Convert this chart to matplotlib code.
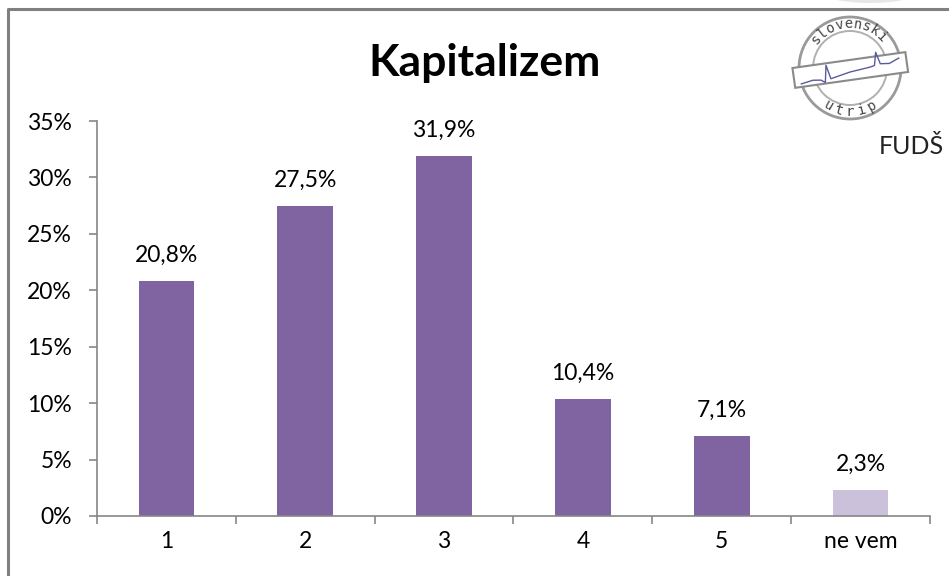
import numpy as np
import matplotlib
matplotlib.use('Agg')
import matplotlib.pyplot as plt
from matplotlib.patches import Circle, Rectangle, Ellipse
import matplotlib.transforms as mtransforms

categories = ['1', '2', '3', '4', '5', 'ne vem']
values = [20.8, 27.5, 31.9, 10.4, 7.1, 2.3]
value_labels = ['20,8%', '27,5%', '31,9%', '10,4%', '7,1%', '2,3%']
y_ticks = [0, 5, 10, 15, 20, 25, 30, 35]

plt.rcParams['font.family'] = ['Lato', 'DejaVu Sans']

bar_colors = ['#8064A2'] * 5 + ['#CCC1DA']
grey = '#868686'
fs = 16.5

fig = plt.figure(figsize=(9.49, 5.76), dpi=100)
ax = fig.add_axes([97 / 949, 1 - 516 / 576, (930 - 97) / 949, (516 - 121) / 576])

x = np.arange(len(categories))
ax.bar(x, values, width=0.4, color=bar_colors)
for xi, v, lab in zip(x, values, value_labels):
    ax.annotate(lab, (xi, v), xytext=(0, 11), textcoords='offset points',
                ha='center', va='bottom', fontsize=fs)

ax.set_xlim(-0.5, len(categories) - 0.5)
ax.set_ylim(0, 35)
ax.set_yticks(y_ticks)
ax.set_yticklabels([f'{t}%' for t in y_ticks], fontsize=fs)
ax.set_xticks(x)
ax.set_xticklabels(categories, fontsize=fs)
ax.set_xticks(np.arange(-0.5, len(categories)), minor=True)
ax.tick_params(axis='x', which='major', length=0, pad=11)
ax.tick_params(axis='x', which='minor', length=6, color=grey, width=1.2, direction='out')
ax.tick_params(axis='y', length=6, color=grey, width=1.2, direction='out', pad=12)
for s in ['top', 'right']:
    ax.spines[s].set_visible(False)
for s in ['left', 'bottom']:
    ax.spines[s].set_color(grey)
    ax.spines[s].set_linewidth(1.2)

# title
fig.text(485 / 949, 1 - 63 / 576, 'Kapitalizem', ha='center', va='center',
         fontsize=32, fontweight='bold')

# overlay in pixel coords for frame and logo
ov = fig.add_axes([0, 0, 1, 1], zorder=5)
ov.set_xlim(0, 949)
ov.set_ylim(576, 0)
ov.axis('off')
ov.plot([8.5, 8.5, 949], [576, 8.5, 8.5], color='#808080', lw=2.2)
ov.add_patch(Ellipse((870, -12), 110, 30, facecolor='#e6e6e6', edgecolor='none', zorder=0))

# logo stamp
cx, cy = 850, 68
ov.add_patch(Circle((cx, cy), 51, fill=False, ec='#9a9a9a', lw=2.0))
ov.add_patch(Circle((cx, cy), 37, fill=False, ec='#b0b0b0', lw=1.4))
band = Rectangle((cx - 57, cy - 8), 114, 20, facecolor='white', ec='#8a8a8a', lw=1.5)
band.set_transform(mtransforms.Affine2D().rotate_deg_around(cx, cy, -8) + ov.transData)
ov.add_patch(band)
hx = np.array([-50, -38, -30, -26, -23, -20, -10, 0, 10, 20, 25, 28, 31, 40, 50])
hy = np.array([6, 4, 5, 8, -9, 5, 3, 1, 0, -1, -2, -15, -3, -2, -6])
ang = np.deg2rad(-8)
px = cx + hx * np.cos(ang) - hy * np.sin(ang)
py = cy + 3 + hx * np.sin(ang) + hy * np.cos(ang)
ov.plot(px, py, color='#5a5aa0', lw=1.0)
for word, start, end, r in [('slovenski', 140, 45, 44), ('utrip', 240, 300, 44)]:
    angs = np.linspace(start, end, len(word))
    for ch, a in zip(word, angs):
        ar = np.deg2rad(a)
        tx = cx + r * np.cos(ar)
        ty = cy - r * np.sin(ar)
        rot = a - 90 if word == 'slovenski' else a + 90
        ov.text(tx, ty, ch, ha='center', va='center', fontsize=10,
                family='DejaVu Sans Mono', color='#444444', rotation=rot)
ov.text(944, 146, 'FUDŠ', ha='right', va='center', fontsize=18, color='#222222')

fig.savefig('out.png', dpi=100)
